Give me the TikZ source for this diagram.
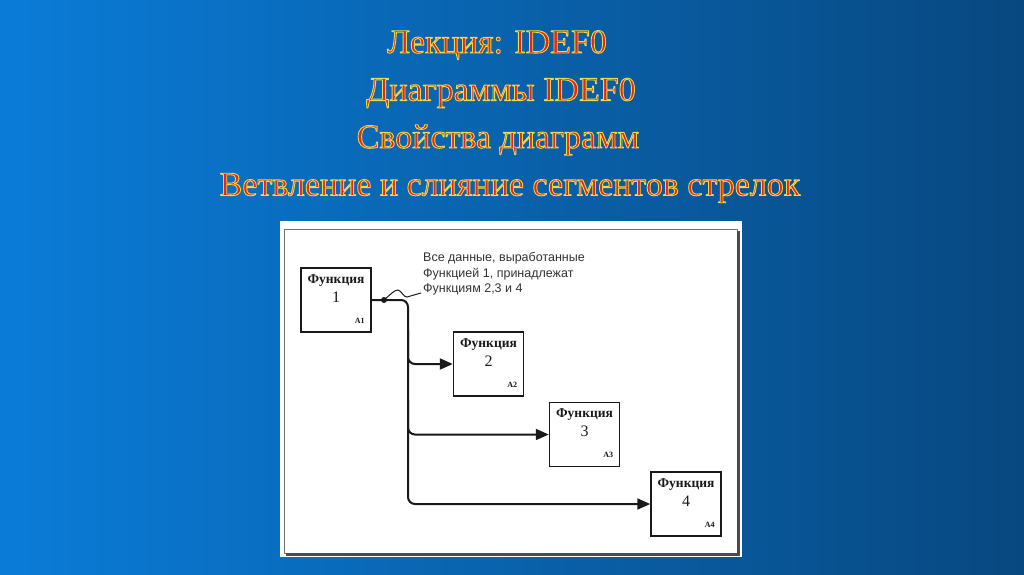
\documentclass[tikz,border=0pt]{standalone}
\usepackage{fontspec}
\setmainfont{Liberation Serif}
\newfontfamily\notefont{Liberation Sans}
\newfontfamily\ttlfont[FakeBold=2.6]{Liberation Serif}
\usetikzlibrary{arrows.meta}
\definecolor{bgL}{RGB}{10,124,216}
\definecolor{bgR}{RGB}{8,72,128}
\definecolor{tred}{RGB}{232,36,18}
\definecolor{ink}{RGB}{25,25,25}
\newcommand\olt[1]{{\ttlfont\fontsize{34}{40}\selectfont\color{tred}\special{pdf:code 0.93 0.85 0.3 RG 1 j}#1}}
\tikzset{
  ttl/.style={inner sep=0pt, anchor=center},
  fbox/.style={draw=ink, line width=1.5pt, fill=white, minimum width=70pt, minimum height=64pt, inner sep=0pt},
  fname/.style={inner sep=0pt, text=ink, font=\bfseries\fontsize{13.5}{15}\selectfont},
  fnum/.style={inner sep=0pt, text=ink, font=\fontsize{16}{18}\selectfont},
  fcode/.style={inner sep=0pt, text=ink, font=\bfseries\fontsize{8}{9}\selectfont},
  flow/.style={draw=ink, line width=2pt, rounded corners=7pt, -{Triangle[length=13pt,width=11pt]}},
  note/.style={inner sep=0pt, align=left, text=black!80, font=\notefont\fontsize{12.5}{15.5}\selectfont},
}
\begin{document}
\begin{tikzpicture}[x=1pt,y=-1pt]
\useasboundingbox (0,0) rectangle (1024,574);
\shade[left color=bgL, right color=bgR] (0,0) rectangle (1024,574);
% titles
\node[ttl] (t1) at (497,45) {\olt{Лекция: IDEF0}};
\node[ttl] (t2) at (501,93) {\olt{Диаграммы IDEF0}};
\node[ttl] (t3) at (498,140) {\olt{Свойства диаграмм}};
\node[ttl] (t4) at (510,188) {\olt{Ветвление и слияние сегментов стрелок}};
% panel
\fill[white] (280,221) rectangle (742,557);
\draw[black!55, line width=1pt] (284,229) rectangle (737,553);
\draw[black!70, line width=2.4pt] (738.5,231) -- (738.5,554.5) -- (286,554.5);
% boxes
\foreach \i/\x/\y in {1/336/300, 2/488.5/364, 3/584.5/434.5, 4/686/504} {
  \node[fbox] (b\i) at (\x,\y) {};
  \node[fname] (b\i t) at ([yshift=-13pt]b\i.north) {Функция};
  \node[fnum] (b\i n) at ([yshift=-30pt]b\i.north) {\i};
  \node[fcode] (b\i c) at ([xshift=-12pt,yshift=12pt]b\i.south east) {A\i};
}
% flows
\coordinate (v0) at (408,300);
\coordinate (s2) at (408,330);
\coordinate (s3) at (408,400);
\draw[flow] (b1.east) -- (v0) -- (v0 |- b4.west) -- (b4.west);
\draw[flow] (s2) -- (s2 |- b2.west) -- (b2.west);
\draw[flow] (s3) -- (s3 |- b3.west) -- (b3.west);
\coordinate (dot) at (384,300);
\fill[ink] (dot) circle (3pt);
% note
\node[note, anchor=west] (nt) at (423,274) {Все данные, выработанные\\Функцией 1, принадлежат\\Функциям 2,3 и 4};
\coordinate (lead) at (421,293);
\draw[ink, line width=1pt] (dot) .. controls (390,295) and (394,290) .. (398,290) .. controls (402,291) and (403,297) .. (407,297) -- (lead);
\end{tikzpicture}
\end{document}
